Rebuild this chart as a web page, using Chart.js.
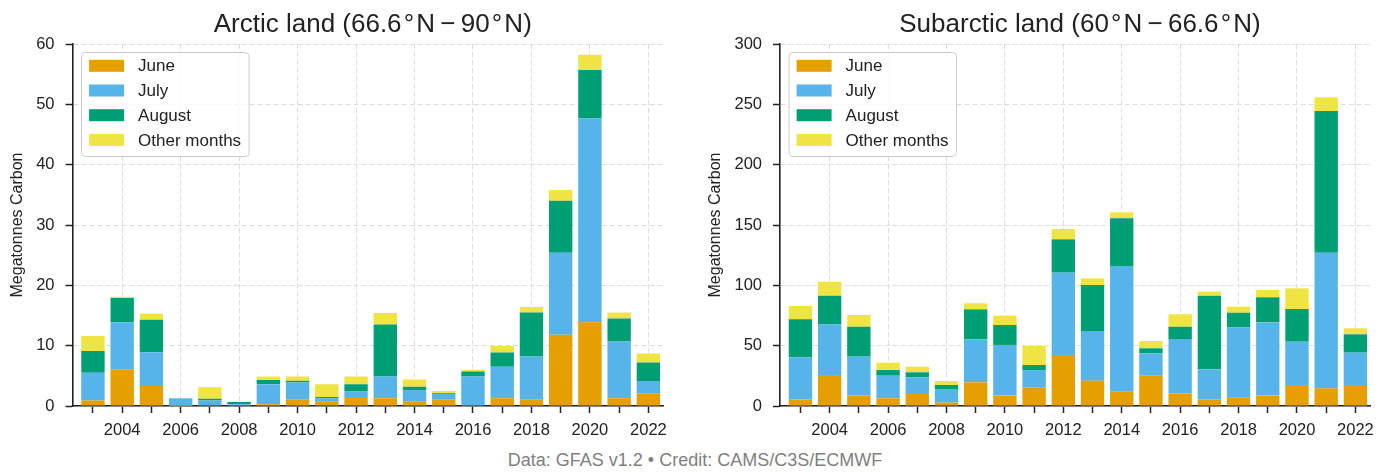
<!DOCTYPE html>
<html>
<head>
<meta charset="utf-8">
<script src="https://cdn.jsdelivr.net/npm/chart.js@4.4.1/dist/chart.umd.min.js"></script>
<style>
  html, body { margin: 0; padding: 0; background: #fff; width: 1390px; height: 472px; overflow: hidden; }
  #arctic { position: absolute; left: 0; top: 0; }
  #subarctic { position: absolute; left: 706px; top: 0; }
  #credit { position: absolute; left: 0; top: 450px; width: 1390px; text-align: center;
            font: 18px/20px "Liberation Sans", Arial, sans-serif; color: #7f7f7f; }
</style>
</head>
<body>
<canvas id="arctic" width="700" height="440"></canvas>
<canvas id="subarctic" width="684" height="440"></canvas>
<div id="credit">Data: GFAS v1.2 • Credit: CAMS/C3S/ECMWF</div>
<script>
// Fire emissions by month, megatonnes of carbon, 2003–2022
const years = [2003, 2004, 2005, 2006, 2007, 2008, 2009, 2010, 2011, 2012,
               2013, 2014, 2015, 2016, 2017, 2018, 2019, 2020, 2021, 2022];

const arcticJune   = [0.9, 6.1, 3.3, 0.05, 0.1, 0.0, 0.3, 1.1, 0.7, 1.5, 1.3, 0.7, 1.1, 0.15, 1.3, 1.1, 11.8, 13.9, 1.3, 2.1];
const arcticJuly   = [4.6, 7.8, 5.6, 1.2, 0.8, 0.3, 3.3, 2.8, 0.6, 0.9, 3.6, 1.95, 0.9, 4.75, 5.2, 7.1, 13.6, 33.8, 9.4, 2.05];
const arcticAugust = [3.6, 4.0, 5.4, 0.05, 0.3, 0.35, 0.7, 0.3, 0.2, 1.2, 8.6, 0.55, 0.1, 0.8, 2.35, 7.3, 8.6, 8.0, 3.8, 3.05];
const arcticOther  = [2.5, 0.2, 1.0, 0.0, 1.9, 0.05, 0.6, 0.7, 2.1, 1.3, 1.9, 1.2, 0.4, 0.3, 1.1, 0.9, 1.8, 2.5, 1.0, 1.5];

const subarcticJune   = [5.5, 25.7, 8.6, 6.4, 9.9, 2.8, 19.6, 8.6, 15.2, 42.3, 21.0, 11.9, 25.1, 10.5, 5.5, 6.9, 8.6, 17.4, 14.6, 17.4];
const subarcticJuly   = [34.8, 42.0, 32.3, 18.7, 13.9, 11.3, 35.6, 42.0, 14.6, 68.2, 41.2, 104.1, 18.5, 45.0, 24.9, 58.3, 60.7, 35.9, 112.5, 26.8];
const subarcticAugust = [31.5, 23.7, 24.8, 4.7, 4.1, 3.3, 24.9, 16.5, 4.2, 27.6, 38.1, 39.5, 4.2, 10.2, 61.0, 12.1, 20.8, 27.1, 117.4, 15.2];
const subarcticOther  = [11.1, 11.6, 9.7, 6.1, 4.7, 3.3, 5.0, 7.8, 15.7, 8.6, 5.5, 5.0, 6.1, 10.3, 3.4, 5.0, 6.0, 17.1, 11.3, 5.0];

const seriesNames  = ['June', 'July', 'August', 'Other months'];
const seriesColors = ['#E69F00', '#56B4E9', '#009E73', '#F0E442'];

const FONT = '"Liberation Sans", Arial, Helvetica, sans-serif';
const INK = '#222222';
const GRID = '#dcdcdc';

Chart.defaults.font.family = FONT;
Chart.defaults.color = INK;

// Panel heading above the plot area
const panelTitle = {
  id: 'panelTitle',
  afterDraw(chart, args, opts) {
    const { ctx, chartArea } = chart;
    ctx.save();
    ctx.font = '26px ' + FONT;
    ctx.fillStyle = INK;
    ctx.textAlign = 'center';
    ctx.textBaseline = 'middle';
    ctx.fillText(opts.text, (chartArea.left + chartArea.right) / 2 + 5, 24.5);
    ctx.restore();
  }
};

// Framed legend in the upper-left corner of the plot area
const boxLegend = {
  id: 'boxLegend',
  afterDatasetsDraw(chart) {
    const { ctx, chartArea } = chart;
    const sets = chart.data.datasets;
    ctx.save();
    ctx.font = '17px ' + FONT;
    let textW = 0;
    sets.forEach(d => { textW = Math.max(textW, ctx.measureText(d.label).width); });
    const x0 = chartArea.left + 9, y0 = chartArea.top + 8.5;
    const w = 56.6 + textW + 8, h = 104;
    ctx.beginPath();
    ctx.roundRect(x0, y0, w, h, 4);
    ctx.fillStyle = 'rgba(255,255,255,0.8)';
    ctx.fill();
    ctx.strokeStyle = '#cccccc';
    ctx.lineWidth = 1;
    ctx.stroke();
    ctx.textBaseline = 'middle';
    ctx.textAlign = 'left';
    sets.forEach((d, i) => {
      const cy = y0 + 13.3 + i * 24.7;
      ctx.fillStyle = d.backgroundColor;
      ctx.fillRect(x0 + 7.6, cy - 6, 35, 12);
      ctx.fillStyle = INK;
      ctx.fillText(d.label, x0 + 56.6, cy + 1);
    });
    ctx.restore();
  }
};

function makeChart(id, title, series, yMax, yStep, yWidth, padRight, yTitlePad) {
  const datasets = series.map((vals, i) => ({
    label: seriesNames[i],
    data: years.map((yr, k) => ({ x: yr, y: vals[k] })),
    backgroundColor: seriesColors[i],
    borderWidth: 0,
    categoryPercentage: 1.0,
    barPercentage: 0.8
  }));
  return new Chart(document.getElementById(id), {
    type: 'bar',
    data: { datasets },
    options: {
      responsive: false,
      animation: false,
      layout: { padding: { left: 0, right: padRight, top: 44, bottom: 0 } },
      plugins: {
        legend: { display: false },
        tooltip: { enabled: false },
        title: { display: false },
        panelTitle: { text: title }
      },
      scales: {
        x: {
          type: 'linear', min: 2002.3, max: 2022.5, stacked: true, offset: false,
          afterFit: s => { s.height = 34; },
          ticks: {
            stepSize: 1, autoSkip: false, includeBounds: false, maxRotation: 0, minRotation: 0,
            padding: 8, color: INK, font: { size: 16.5 },
            callback: v => (v % 2 === 0 ? String(v) : '')
          },
          grid: {
            offset: false, lineWidth: 1,
            color: c => (c.tick && c.tick.value % 2 === 0 ? GRID : 'rgba(0,0,0,0)'),
            tickColor: INK, tickLength: 7, tickWidth: 1.5
          },
          border: { color: INK, width: 1.6, dash: [5, 3] }
        },
        y: {
          min: 0, max: yMax, stacked: true,
          afterFit: s => { s.width = yWidth; },
          ticks: { stepSize: yStep, padding: 11, color: INK, font: { size: 16.5 } },
          grid: { color: GRID, lineWidth: 1, tickColor: INK, tickLength: 7, tickWidth: 1.5 },
          border: { color: INK, width: 1.6, dash: [5, 3] },
          title: {
            display: true, text: 'Megatonnes Carbon', color: INK,
            font: { size: 16, lineHeight: 1.2 },
            padding: { top: yTitlePad, bottom: 0 }
          }
        }
      }
    },
    plugins: [boxLegend, panelTitle]
  });
}

makeChart('arctic', 'Arctic land (66.6\u200A°\u200AN\u2009\u2212\u200990\u200A°\u200AN)',
  [arcticJune, arcticJuly, arcticAugust, arcticOther], 60, 10, 72.5, 37, 8);
makeChart('subarctic', 'Subarctic land (60\u200A°\u200AN\u2009\u2212\u200966.6\u200A°\u200AN)',
  [subarcticJune, subarcticJuly, subarcticAugust, subarcticOther], 300, 50, 74, 20, -0.5);
</script>
</body>
</html>
